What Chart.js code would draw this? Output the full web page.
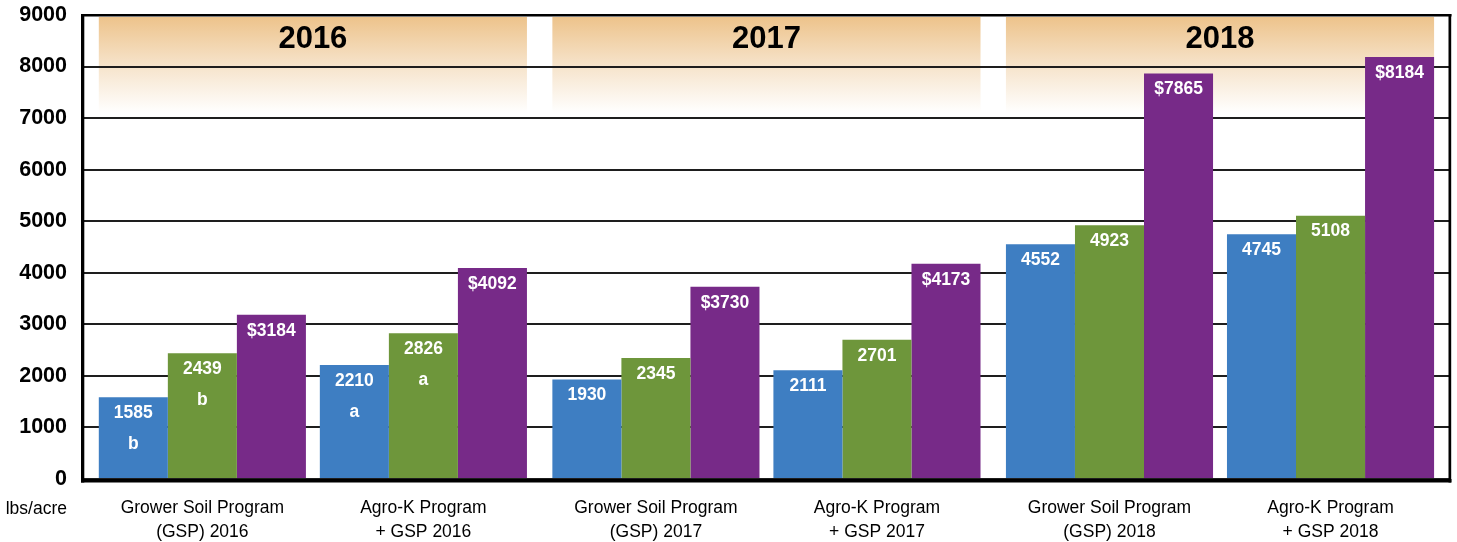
<!DOCTYPE html>
<html>
<head>
<meta charset="utf-8">
<script src="https://cdn.jsdelivr.net/npm/chart.js@4.4.0/dist/chart.umd.min.js"></script>
<style>
  html, body { margin: 0; padding: 0; background: #fff; }
  #wrap { width: 1457px; height: 542px; }
</style>
</head>
<body>
<div id="wrap"><canvas id="yieldChart"></canvas></div>
<script>
// Data
const categories = [
    ['Grower Soil Program', '(GSP) 2016'],
    ['Agro-K Program', '+ GSP 2016'],
    ['Grower Soil Program', '(GSP) 2017'],
    ['Agro-K Program', '+ GSP 2017'],
    ['Grower Soil Program', '(GSP) 2018'],
    ['Agro-K Program', '+ GSP 2018'],
];
const years = ['2016', '2017', '2018'];
const blueValues = [1585, 2210, 1930, 2111, 4552, 4745];
const greenValues = [2439, 2826, 2345, 2701, 4923, 5108];
const purpleValues = [3184, 4092, 3730, 4173, 7865, 8184];
const blueLetters = ['b', 'a', '', '', '', ''];
const greenLetters = ['b', 'a', '', '', '', ''];
const yMin = 0;
const yMax = 9000;
const yStep = 1000;
const yUnitLabel = 'lbs/acre';

const FONT = "'Liberation Sans', Arial, sans-serif";

// groups of the same year sit a little closer than groups of different years
const yearGap = 0.052;
const xPos = categories.map((c, i) => i + yearGap * Math.floor(i / 2));

const toPoints = (vals) => vals.map((v, i) => ({ x: xPos[i], y: v }));

const yearBands = {
    id: 'yearBands',
    beforeDraw(chart) {
        const { ctx, chartArea } = chart;
        const blue = chart.getDatasetMeta(0).data;
        const purple = chart.getDatasetMeta(2).data;
        const top = chartArea.top + 2;
        const bottom = chartArea.top + 98;
        ctx.save();
        years.forEach((yr, j) => {
            const a = blue[j * 2];
            const b = purple[j * 2 + 1];
            const left = a.x - a.width / 2;
            const right = b.x + b.width / 2;
            const g = ctx.createLinearGradient(0, top, 0, bottom);
            g.addColorStop(0, '#edc38b');
            g.addColorStop(0.5, '#f6e3ca');
            g.addColorStop(1, '#ffffff');
            ctx.fillStyle = g;
            ctx.fillRect(left, top, right - left, bottom - top);
            ctx.fillStyle = '#000';
            ctx.font = 'bold 31px ' + FONT;
            ctx.textAlign = 'center';
            ctx.textBaseline = 'middle';
            ctx.fillText(yr, (left + right) / 2, 39);
        });
        ctx.restore();
    },
};

const barLabels = {
    id: 'barLabels',
    afterDatasetsDraw(chart) {
        const { ctx } = chart;
        const letters = [blueLetters, greenLetters, null];
        const prefix = ['', '', '$'];
        ctx.save();
        ctx.fillStyle = '#fff';
        ctx.textAlign = 'center';
        ctx.textBaseline = 'middle';
        ctx.font = 'bold 17.5px ' + FONT;
        chart.data.datasets.forEach((ds, d) => {
            chart.getDatasetMeta(d).data.forEach((bar, i) => {
                ctx.fillText(prefix[d] + ds.data[i].y, bar.x, bar.y + 16);
                if (letters[d] && letters[d][i]) {
                    ctx.fillText(letters[d][i], bar.x, bar.y + 47);
                }
            });
        });
        ctx.restore();
    },
};

const frame = {
    id: 'frame',
    afterDraw(chart) {
        const { ctx, chartArea: a } = chart;
        ctx.save();
        ctx.fillStyle = '#000';
        ctx.fillRect(a.left - 2, a.top - 1, a.right - a.left + 4.5, 2.5);
        ctx.fillRect(a.left - 2, a.top - 1, 3.3, a.bottom - a.top + 4.5);
        ctx.fillRect(a.right - 0.5, a.top - 1, 2.7, a.bottom - a.top + 4.5);
        ctx.fillRect(a.left - 2, a.bottom, a.right - a.left + 4.5, 3.5);
        ctx.font = '17.5px ' + FONT;
        ctx.textAlign = 'right';
        ctx.textBaseline = 'middle';
        ctx.fillText(yUnitLabel, 67, 509);
        ctx.restore();
    },
};

const ctx = document.getElementById('yieldChart').getContext('2d');
const yieldChart = new Chart(ctx, {
    type: 'bar',
    data: {
        datasets: [
            { label: 'Blue', data: toPoints(blueValues), backgroundColor: '#3e7ec2' },
            { label: 'Green', data: toPoints(greenValues), backgroundColor: '#6e963b' },
            { label: 'Purple', data: toPoints(purpleValues), backgroundColor: '#772a88' },
        ],
    },
    options: {
        responsive: true,
        maintainAspectRatio: false,
        animation: false,
        layout: { padding: { top: 15, right: 8, left: 0, bottom: 0 } },
        datasets: {
            bar: { categoryPercentage: 0.937, barPercentage: 1, borderWidth: 0 },
        },
        plugins: {
            legend: { display: false },
            tooltip: { enabled: false },
        },
        scales: {
            x: {
                type: 'linear',
                offset: false,
                min: -0.54,
                max: xPos[xPos.length - 1] + 0.536,
                grid: { display: false, offset: false },
                border: { display: false },
                afterBuildTicks: (scale) => {
                    scale.ticks = xPos.map((v) => ({ value: v }));
                },
                afterFit: (scale) => {
                    scale.height = 63;
                    scale.paddingLeft = 0;
                    scale.paddingRight = 0;
                },
                ticks: {
                    autoSkip: false,
                    maxRotation: 0,
                    padding: 9,
                    color: '#000',
                    font: { family: FONT, size: 17.5, lineHeight: 1.37 },
                    callback: (val, idx) => categories[idx],
                },
            },
            y: {
                min: yMin,
                max: yMax,
                grid: { color: '#1e1e1e', lineWidth: 2, drawTicks: false },
                border: { display: false },
                afterFit: (scale) => {
                    scale.width = 83;
                    scale.paddingTop = 0;
                    scale.paddingBottom = 0;
                },
                ticks: {
                    stepSize: yStep,
                    padding: 16,
                    color: '#000',
                    font: { family: FONT, size: 21.5, weight: 'bold', lineHeight: 1 },
                    callback: (v) => String(v),
                },
            },
        },
    },
    plugins: [yearBands, barLabels, frame],
});
</script>
</body>
</html>
